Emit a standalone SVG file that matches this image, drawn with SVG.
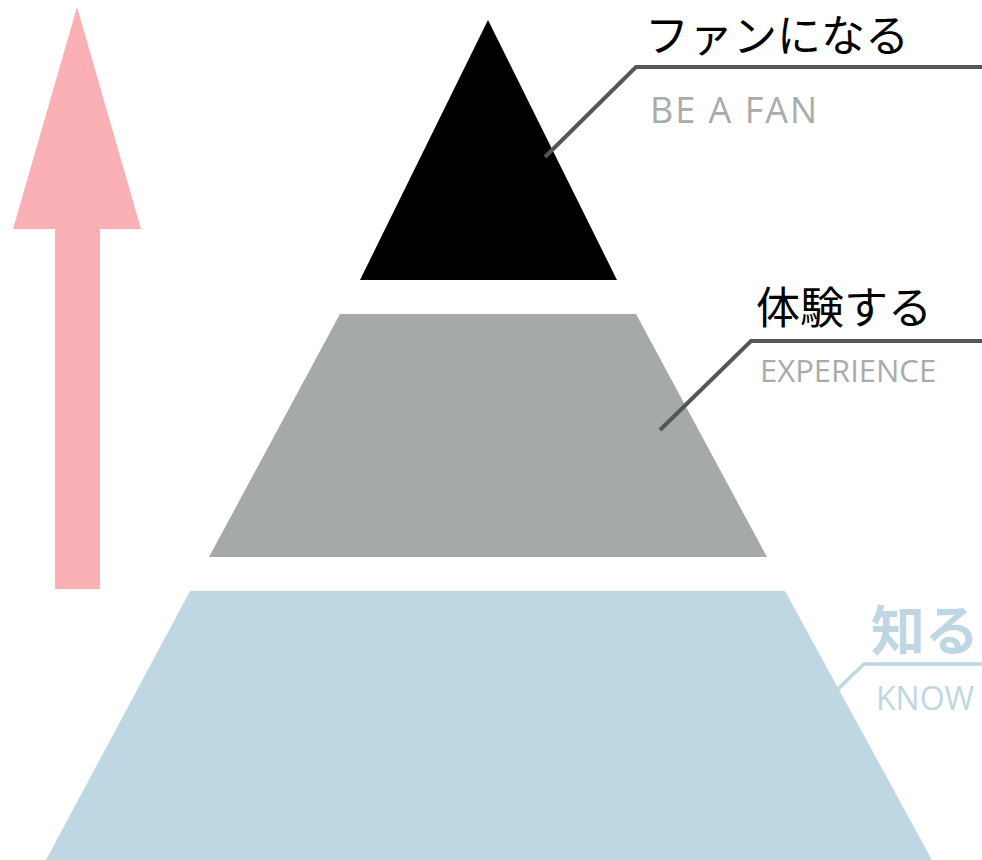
<svg xmlns="http://www.w3.org/2000/svg" width="982" height="860" viewBox="0 0 982 860">
<style>
.jp{font-family:"Noto Sans CJK JP","Noto Sans",sans-serif;}
.en{font-family:"Open Sans","Liberation Sans",sans-serif;}
.lead{fill:none;stroke:#53575C;stroke-width:4;}
</style>
<rect width="982" height="860" fill="#FFFFFF"/>
<g id="arrow">
<polygon points="77,7 141,229 100,229 100,589 55,589 55,229 13,229" fill="#FBB0B5"/>
</g>
<g id="tier-top">
<polygon points="488,20 617,280 360,280" fill="#000000"/>
</g>
<g id="tier-middle">
<polygon points="340,314 636,314 767,557 209,557" fill="#A5A9A8"/>
</g>
<g id="tier-bottom">
<polygon points="190,591 785,591 932,860 46,860" fill="#BFD7E3"/>
</g>
<g id="connectors">
<polyline class="lead" points="545,157 636,67 982,67"/>
<polyline class="lead" points="660,430 751,341 982,341"/>
<polyline points="838,689 864,664 982,664" fill="none" stroke="#BFD7E3" stroke-width="3.5"/>
</g>
<g id="label-fan">
<text class="jp" x="645" y="52" font-size="44" fill="#000000">ファンになる</text>
<text class="en" x="650" y="123" font-size="36" letter-spacing="2" fill="#A9ACAB">BE A FAN</text>
</g>
<g id="label-experience">
<text class="jp" x="756" y="324" font-size="44" fill="#000000">体験する</text>
<text class="en" x="760" y="382" font-size="31" fill="#A9ACAB">EXPERIENCE</text>
</g>
<g id="label-know">
<text class="jp" x="871" y="651" font-size="54" font-weight="bold" fill="#BFD7E3">知る</text>
<text class="en" x="876" y="710" font-size="32" fill="#BFD7E3">KNOW</text>
</g>
</svg>
